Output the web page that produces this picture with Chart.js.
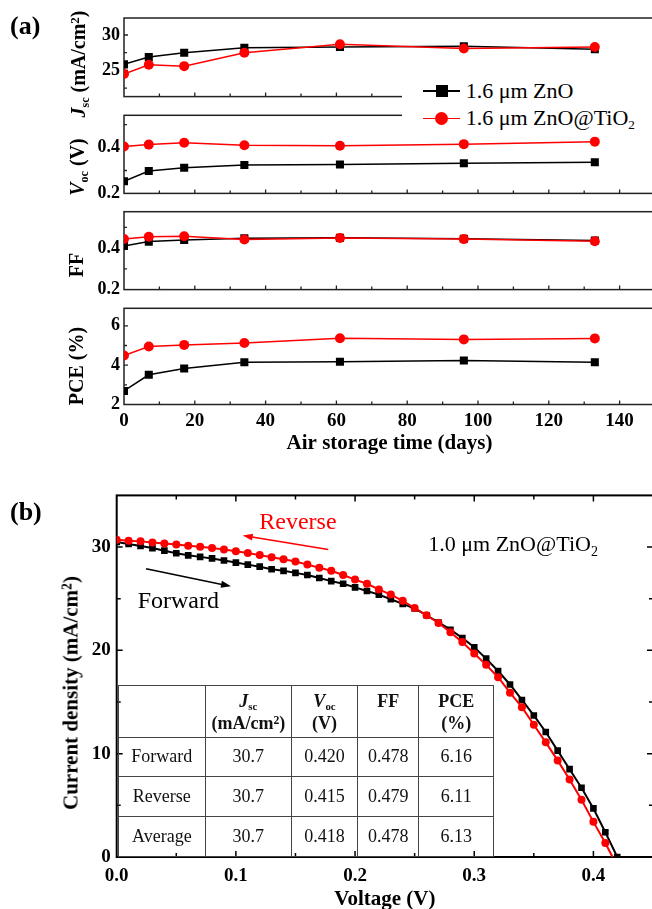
<!DOCTYPE html>
<html>
<head>
<meta charset="utf-8">
<script src="https://cdn.jsdelivr.net/npm/chart.js@4/dist/chart.umd.min.js"></script>
<style>
html,body{margin:0;padding:0;background:#fff;overflow:hidden}
#wrap{position:relative;width:652px;height:909px;overflow:hidden;background:#fff;font-family:"Liberation Serif","Times New Roman",serif;color:#000}
#wrap canvas{position:absolute;left:0;z-index:0}
.ov{position:absolute;z-index:2;white-space:nowrap;font-family:"Liberation Serif","Times New Roman",serif}
.ytitle{position:absolute;z-index:2;white-space:nowrap;font-weight:bold;font-size:20px;line-height:1;transform:translate(-50%,-50%) rotate(-90deg);font-family:"Liberation Serif","Times New Roman",serif}
.ytitle sub,.tcell sub{font-size:0.6em;vertical-align:-0.3em;line-height:0}
.ytitle sup,.tcell sup{font-size:0.65em;vertical-align:0.45em;line-height:0}
.plabel{position:absolute;z-index:2;font-weight:bold;font-size:26px;line-height:1;font-family:"Liberation Serif","Times New Roman",serif}
#tbl{position:absolute;z-index:2;left:117.7px;top:685.3px;display:grid;border-top:1.5px solid #444;border-left:1.5px solid #444;
  grid-template-columns:87.3px 85.7px 66.6px 61px 75px;grid-template-rows:51.3px 39.4px 40px 40.3px;font-family:"Liberation Serif","Times New Roman",serif}
.tcell{box-sizing:border-box;border-right:1.5px solid #444;border-bottom:1.5px solid #444;font-size:18px;color:#111;
  display:flex;align-items:center;justify-content:center;text-align:center}
.tcell > span{display:block}
.thead{font-weight:bold;align-items:flex-start;padding-top:5px;line-height:21.5px}
</style>
</head>
<body>
<div id="wrap"></div>
<script>
// ---------------- data: panel (a) ----------------
const days = [0, 7, 17, 34, 61, 96, 133];
const jscZnO = [25.85, 26.9, 27.5, 28.2, 28.3, 28.4, 28.0];
const jscZnOTiO2 = [24.5, 25.8, 25.6, 27.5, 28.7, 28.1, 28.3];
const vocZnO = [0.253, 0.298, 0.312, 0.324, 0.326, 0.332, 0.336];
const vocZnOTiO2 = [0.405, 0.413, 0.421, 0.410, 0.408, 0.415, 0.426];
const ffZnO = [0.410, 0.431, 0.439, 0.447, 0.449, 0.445, 0.436];
const ffZnOTiO2 = [0.444, 0.454, 0.457, 0.441, 0.448, 0.443, 0.433];
const pceZnO = [2.69, 3.51, 3.83, 4.15, 4.17, 4.24, 4.15];
const pceZnOTiO2 = [4.49, 4.95, 5.03, 5.13, 5.37, 5.31, 5.36];
const seriesNames = ['1.6 μm ZnO', '1.6 μm ZnO@TiO2'];

// ---------------- data: panel (b) ----------------
const voltForward = [0.00,0.01,0.02,0.03,0.04,0.05,0.06,0.07,0.08,0.09,0.10,0.11,0.12,0.13,0.14,0.15,0.16,0.17,0.18,0.19,0.20,
  0.21,0.22,0.23,0.24,0.25,0.26,0.27,0.28,0.29,0.30,0.31,0.32,0.33,0.34,0.35,0.36,0.37,0.38,0.39,0.40,0.41,0.42];
const jForward = [30.5,30.3,30.1,29.9,29.65,29.4,29.2,29.05,28.9,28.7,28.5,28.3,28.1,27.85,27.7,27.5,27.3,27.0,26.7,26.45,26.1,
  25.75,25.4,24.95,24.5,24.05,23.4,22.7,22.0,21.2,20.3,19.2,18.0,16.7,15.2,13.7,12.1,10.3,8.5,6.7,4.7,2.4,0.0];
const voltReverse = [0.00,0.01,0.02,0.03,0.04,0.05,0.06,0.07,0.08,0.09,0.10,0.11,0.12,0.13,0.14,0.15,0.16,0.17,0.18,0.19,0.20,
  0.21,0.22,0.23,0.24,0.25,0.26,0.27,0.28,0.29,0.30,0.31,0.32,0.33,0.34,0.35,0.36,0.37,0.38,0.39,0.40,0.41,0.416];
const jReverse = [30.7,30.62,30.55,30.45,30.35,30.25,30.12,30.02,29.9,29.76,29.6,29.42,29.22,29.02,28.82,28.6,28.3,28.0,27.7,27.3,26.85,
  26.45,25.9,25.4,24.8,24.1,23.4,22.65,21.75,20.8,19.7,18.6,17.4,15.9,14.5,12.8,11.1,9.35,7.5,5.55,3.4,1.35,0.0];

// table inset
const tableRowNames = ['Forward', 'Reverse', 'Average'];
const tableJsc = ['30.7', '30.7', '30.7'];
const tableVoc = ['0.420', '0.415', '0.418'];
const tableFF = ['0.478', '0.479', '0.478'];
const tablePCE = ['6.16', '6.11', '6.13'];

// ---------------- helpers ----------------
const FONT = "'Liberation Serif','Times New Roman',serif";
const RED = '#ff0000';
const wrap = document.getElementById('wrap');

function makeCanvas(top, h, w) {
  const c = document.createElement('canvas');
  c.width = w; c.height = h;
  c.style.top = top + 'px'; c.style.width = w + 'px'; c.style.height = h + 'px';
  wrap.appendChild(c);
  return c;
}
function addHTML(cls, html, style) {
  const d = document.createElement('div');
  d.className = cls; d.innerHTML = html;
  Object.assign(d.style, style);
  wrap.appendChild(d);
  return d;
}

// frame + inward ticks plugin
const frameTicks = {
  id: 'frameTicks',
  beforeDatasetsDraw(chart, args, o) {
    const {ctx, chartArea: a, scales: {x, y}} = chart;
    ctx.save();
    ctx.strokeStyle = o.color;
    ctx.lineWidth = o.tickWidth;
    ctx.beginPath();
    const isMajor = (v, m) => Math.abs(v / m - Math.round(v / m)) < 1e-6;
    for (let i = Math.ceil(x.min / o.xMinor - 1e-9); i * o.xMinor <= x.max + 1e-9; i++) {
      const v = i * o.xMinor;
      if (Math.abs(v - x.min) < 1e-9 || Math.abs(v - x.max) < 1e-9) continue;
      const p = x.getPixelForValue(v), len = isMajor(v, o.xMajor) ? o.majorLen : o.minorLen;
      if (o.bottom) { ctx.moveTo(p, a.bottom); ctx.lineTo(p, a.bottom - len); }
      if (o.top) { ctx.moveTo(p, a.top); ctx.lineTo(p, a.top + len); }
    }
    for (let i = Math.ceil(y.min / o.yMinor - 1e-9); i * o.yMinor <= y.max + 1e-9; i++) {
      const v = i * o.yMinor;
      if (Math.abs(v - y.min) < 1e-9 || Math.abs(v - y.max) < 1e-9) continue;
      const p = y.getPixelForValue(v), len = isMajor(v, o.yMajor) ? o.majorLen : o.minorLen;
      if (o.left) { ctx.moveTo(a.left, p); ctx.lineTo(a.left + len, p); }
      if (o.right) { ctx.moveTo(a.right, p); ctx.lineTo(a.right - len, p); }
    }
    ctx.stroke();
    ctx.lineWidth = o.frameWidth;
    ctx.strokeRect(a.left, a.top, a.right - a.left, a.bottom - a.top);
    ctx.restore();
  }
};

// annotations (arrows + texts) in data coordinates
const annot = {
  id: 'annot',
  afterDatasetsDraw(chart, args, o) {
    const {ctx, scales: {x, y}} = chart;
    ctx.save();
    (o.arrows || []).forEach(ar => {
      const x0 = x.getPixelForValue(ar.from[0]), y0 = y.getPixelForValue(ar.from[1]);
      const x1 = x.getPixelForValue(ar.to[0]), y1 = y.getPixelForValue(ar.to[1]);
      const ang = Math.atan2(y1 - y0, x1 - x0), L = 10, W = 3.5;
      ctx.strokeStyle = ar.color; ctx.fillStyle = ar.color; ctx.lineWidth = 1.6;
      ctx.beginPath(); ctx.moveTo(x0, y0);
      ctx.lineTo(x1 - L * 0.8 * Math.cos(ang), y1 - L * 0.8 * Math.sin(ang)); ctx.stroke();
      ctx.beginPath(); ctx.moveTo(x1, y1);
      ctx.lineTo(x1 - L * Math.cos(ang) + W * Math.sin(ang), y1 - L * Math.sin(ang) - W * Math.cos(ang));
      ctx.lineTo(x1 - L * Math.cos(ang) - W * Math.sin(ang), y1 - L * Math.sin(ang) + W * Math.cos(ang));
      ctx.closePath(); ctx.fill();
    });
    (o.texts || []).forEach(t => {
      let cx = x.getPixelForValue(t.at[0]);
      const by = y.getPixelForValue(t.at[1]);
      ctx.textBaseline = 'alphabetic'; ctx.textAlign = 'left';
      t.parts.forEach(p => {
        ctx.font = p.font; ctx.fillStyle = p.color;
        ctx.fillText(p.text, cx, by + (p.dy || 0));
        cx += ctx.measureText(p.text).width;
      });
    });
    ctx.restore();
  }
};

// ---------------- panel (a) ----------------
const panelsA = [
  {zno: jscZnO, ti: jscZnOTiO2, min: 21.3, max: 32.4, step: 5, minor: 2.5, top: 18, bottom: 115.3},
  {zno: vocZnO, ti: vocZnOTiO2, min: 0.2, max: 0.541, step: 0.2, minor: 0.1, top: 115.3, bottom: 211.7},
  {zno: ffZnO, ti: ffZnOTiO2, min: 0.2, max: 0.575, step: 0.2, minor: 0.1, top: 211.7, bottom: 308.3},
  {zno: pceZnO, ti: pceZnOTiO2, min: 2, max: 6.89, step: 2, minor: 1, top: 308.3, bottom: 404.5, showX: true}
];
const CW = 670;
panelsA.forEach(p => {
  const cTop = Math.floor(p.top - 18);
  const cBottom = p.showX ? 470 : Math.ceil(p.bottom + 18);
  const h = cBottom - cTop;
  const padTop = p.top - cTop;
  const padBottom = p.showX ? 0 : (cBottom - p.bottom);
  const xH = cBottom - p.bottom;
  const cv = makeCanvas(cTop, h, CW);
  new Chart(cv, {
    type: 'line',
    data: {datasets: [
      {label: seriesNames[1], data: days.map((d, i) => ({x: d, y: p.ti[i]})), borderColor: RED, backgroundColor: RED,
       pointStyle: 'circle', pointRadius: 5, pointBorderWidth: 0, borderWidth: 1.5, clip: 0},
      {label: seriesNames[0], data: days.map((d, i) => ({x: d, y: p.zno[i]})), borderColor: '#000', backgroundColor: '#000',
       pointStyle: 'rect', pointRadius: 5.7, pointBorderWidth: 0, borderWidth: 1.5, clip: 0}
    ]},
    options: {
      responsive: false, animation: false, devicePixelRatio: 1, events: [],
      layout: {padding: {left: 0, right: CW - 655, top: padTop, bottom: padBottom}},
      plugins: {
        legend: {display: false}, tooltip: {enabled: false},
        frameTicks: {color: '#222', tickWidth: 1.3, frameWidth: 1.5, xMinor: 10, xMajor: 20, yMinor: p.minor, yMajor: p.step,
          majorLen: 4, minorLen: 3, left: true, bottom: true, top: false, right: false}
      },
      scales: {
        x: {type: 'linear', min: 0, max: 150, display: !!p.showX,
          grid: {display: false, drawTicks: false}, border: {display: false},
          ticks: {stepSize: 20, includeBounds: false, maxRotation: 0, autoSkip: false, padding: 5, color: '#000',
            font: {family: FONT, size: 19, weight: 'bold'}},
          title: {display: true, text: 'Air storage time (days)', color: '#000',
            font: {family: FONT, size: 21, weight: 'bold'}, padding: {top: 0, bottom: 14}},
          afterFit: s => { s.height = xH; }},
        y: {type: 'linear', min: p.min, max: p.max,
          grid: {display: false, drawTicks: false}, border: {display: false},
          ticks: {stepSize: p.step, includeBounds: false, padding: 4, color: '#000',
            font: {family: FONT, size: 18, weight: 'bold'}},
          afterFit: s => { s.width = 124; }}
      }
    },
    plugins: [frameTicks]
  });
});

// ---------------- panel (b) ----------------
(function () {
  const cTop = 478, cBottom = 920;
  const cv = makeCanvas(cTop, cBottom - cTop, CW);
  new Chart(cv, {
    type: 'line',
    data: {datasets: [
      {label: 'Reverse', data: voltReverse.map((v, i) => ({x: v, y: jReverse[i]})), borderColor: RED, backgroundColor: RED,
       pointStyle: 'circle', pointRadius: c => (c.dataIndex === voltReverse.length - 1 ? 0 : 4), pointBorderWidth: 0, borderWidth: 2},
      {label: 'Forward', data: voltForward.map((v, i) => ({x: v, y: jForward[i]})), borderColor: '#000', backgroundColor: '#000',
       pointStyle: 'rect', pointRadius: 4.7, pointBorderWidth: 0, borderWidth: 2}
    ]},
    options: {
      responsive: false, animation: false, devicePixelRatio: 1, events: [],
      layout: {padding: {left: 0, right: CW - 653, top: 495 - cTop, bottom: 0}},
      plugins: {
        legend: {display: false}, tooltip: {enabled: false},
        frameTicks: {color: '#000', tickWidth: 1.5, frameWidth: 2, xMinor: 0.05, xMajor: 0.1, yMinor: 5, yMajor: 10,
          majorLen: 6, minorLen: 4, left: true, bottom: true, top: true, right: true},
        annot: {
          arrows: [
            {from: [0.1775, 29.77], to: [0.1057, 31.12], color: RED},
            {from: [0.0246, 27.9], to: [0.0959, 26.2], color: '#000'}
          ],
          texts: [
            {at: [0.1196, 31.7], parts: [{text: 'Reverse', font: '24px ' + FONT, color: RED}]},
            {at: [0.0176, 24.14], parts: [{text: 'Forward', font: '24px ' + FONT, color: '#000'}]},
            {at: [0.2614, 29.6], parts: [{text: '1.0 μm ZnO@TiO', font: '22px ' + FONT, color: '#000'},
                                         {text: '2', font: '14px ' + FONT, color: '#000', dy: 5}]}
          ]
        }
      },
      scales: {
        x: {type: 'linear', min: 0, max: 0.45,
          grid: {display: false, drawTicks: false}, border: {display: false},
          ticks: {stepSize: 0.1, includeBounds: false, maxRotation: 0, autoSkip: false, padding: 8, color: '#000',
            font: {family: FONT, size: 19, weight: 'bold'}, callback: v => Number(v).toFixed(1)},
          title: {display: true, text: 'Voltage (V)', color: '#000',
            font: {family: FONT, size: 21, weight: 'bold'}, padding: {top: 0, bottom: 7.8}},
          afterFit: s => { s.height = cBottom - 857; }},
        y: {type: 'linear', min: 0, max: 35,
          grid: {display: false, drawTicks: false}, border: {display: false},
          ticks: {stepSize: 10, includeBounds: false, padding: 6, color: '#000',
            font: {family: FONT, size: 19, weight: 'bold'}},
          afterFit: s => { s.width = 116.7; }}
      }
    },
    plugins: [frameTicks, annot]
  });
})();

// ---------------- HTML overlays ----------------
addHTML('plabel', '(a)', {left: '10px', top: '13px'});
addHTML('plabel', '(b)', {left: '10px', top: '499px'});

addHTML('ytitle', '<i>J</i><sub>sc</sub> (mA/cm<sup>2</sup>)', {left: '78px', top: '64px'});
addHTML('ytitle', '<i>V</i><sub>oc</sub> (V)', {left: '77px', top: '167px'});
addHTML('ytitle', 'FF', {left: '76px', top: '265px'});
addHTML('ytitle', 'PCE (%)', {left: '76px', top: '366px'});
addHTML('ytitle', 'Current density (mA/cm<sup>2</sup>)', {left: '71px', top: '692.5px', fontSize: '21px'});

// legend (white box covering the panel boundary)
addHTML('ov', '', {left: '402px', top: '76px', width: '260px', height: '58px', background: '#fff'});
addHTML('ov', '', {left: '423px', top: '90px', width: '37px', height: '1.5px', background: '#000'});
addHTML('ov', '', {left: '435.5px', top: '84.7px', width: '12px', height: '12px', background: '#000'});
addHTML('ov', '', {left: '423px', top: '117.5px', width: '37px', height: '1.5px', background: RED});
addHTML('ov', '', {left: '435px', top: '111.8px', width: '13px', height: '13px', background: RED, borderRadius: '50%'});
addHTML('ov', seriesNames[0], {left: '465.7px', top: '75.7px', height: '30px', lineHeight: '30px', fontSize: '22px'});
addHTML('ov', '1.6 μm ZnO@TiO<sub style="font-size:0.6em;vertical-align:-0.3em;line-height:0">2</sub>',
  {left: '465.7px', top: '103.3px', height: '30px', lineHeight: '30px', fontSize: '22px'});

// inset table built from arrays
(function () {
  const t = document.createElement('div');
  t.id = 'tbl';
  const heads = ['', '<i>J</i><sub>sc</sub><br>(mA/cm<sup>2</sup>)', '<i>V</i><sub>oc</sub><br>(V)', 'FF', 'PCE<br>(%)'];
  heads.forEach(hh => {
    const c = document.createElement('div'); c.className = 'tcell thead';
    const s = document.createElement('span'); s.innerHTML = hh; c.appendChild(s); t.appendChild(c);
  });
  tableRowNames.forEach((n, i) => {
    [n, tableJsc[i], tableVoc[i], tableFF[i], tablePCE[i]].forEach(v => {
      const c = document.createElement('div'); c.className = 'tcell';
      const s = document.createElement('span'); s.textContent = v; c.appendChild(s); t.appendChild(c);
    });
  });
  wrap.appendChild(t);
})();
</script>
</body>
</html>
